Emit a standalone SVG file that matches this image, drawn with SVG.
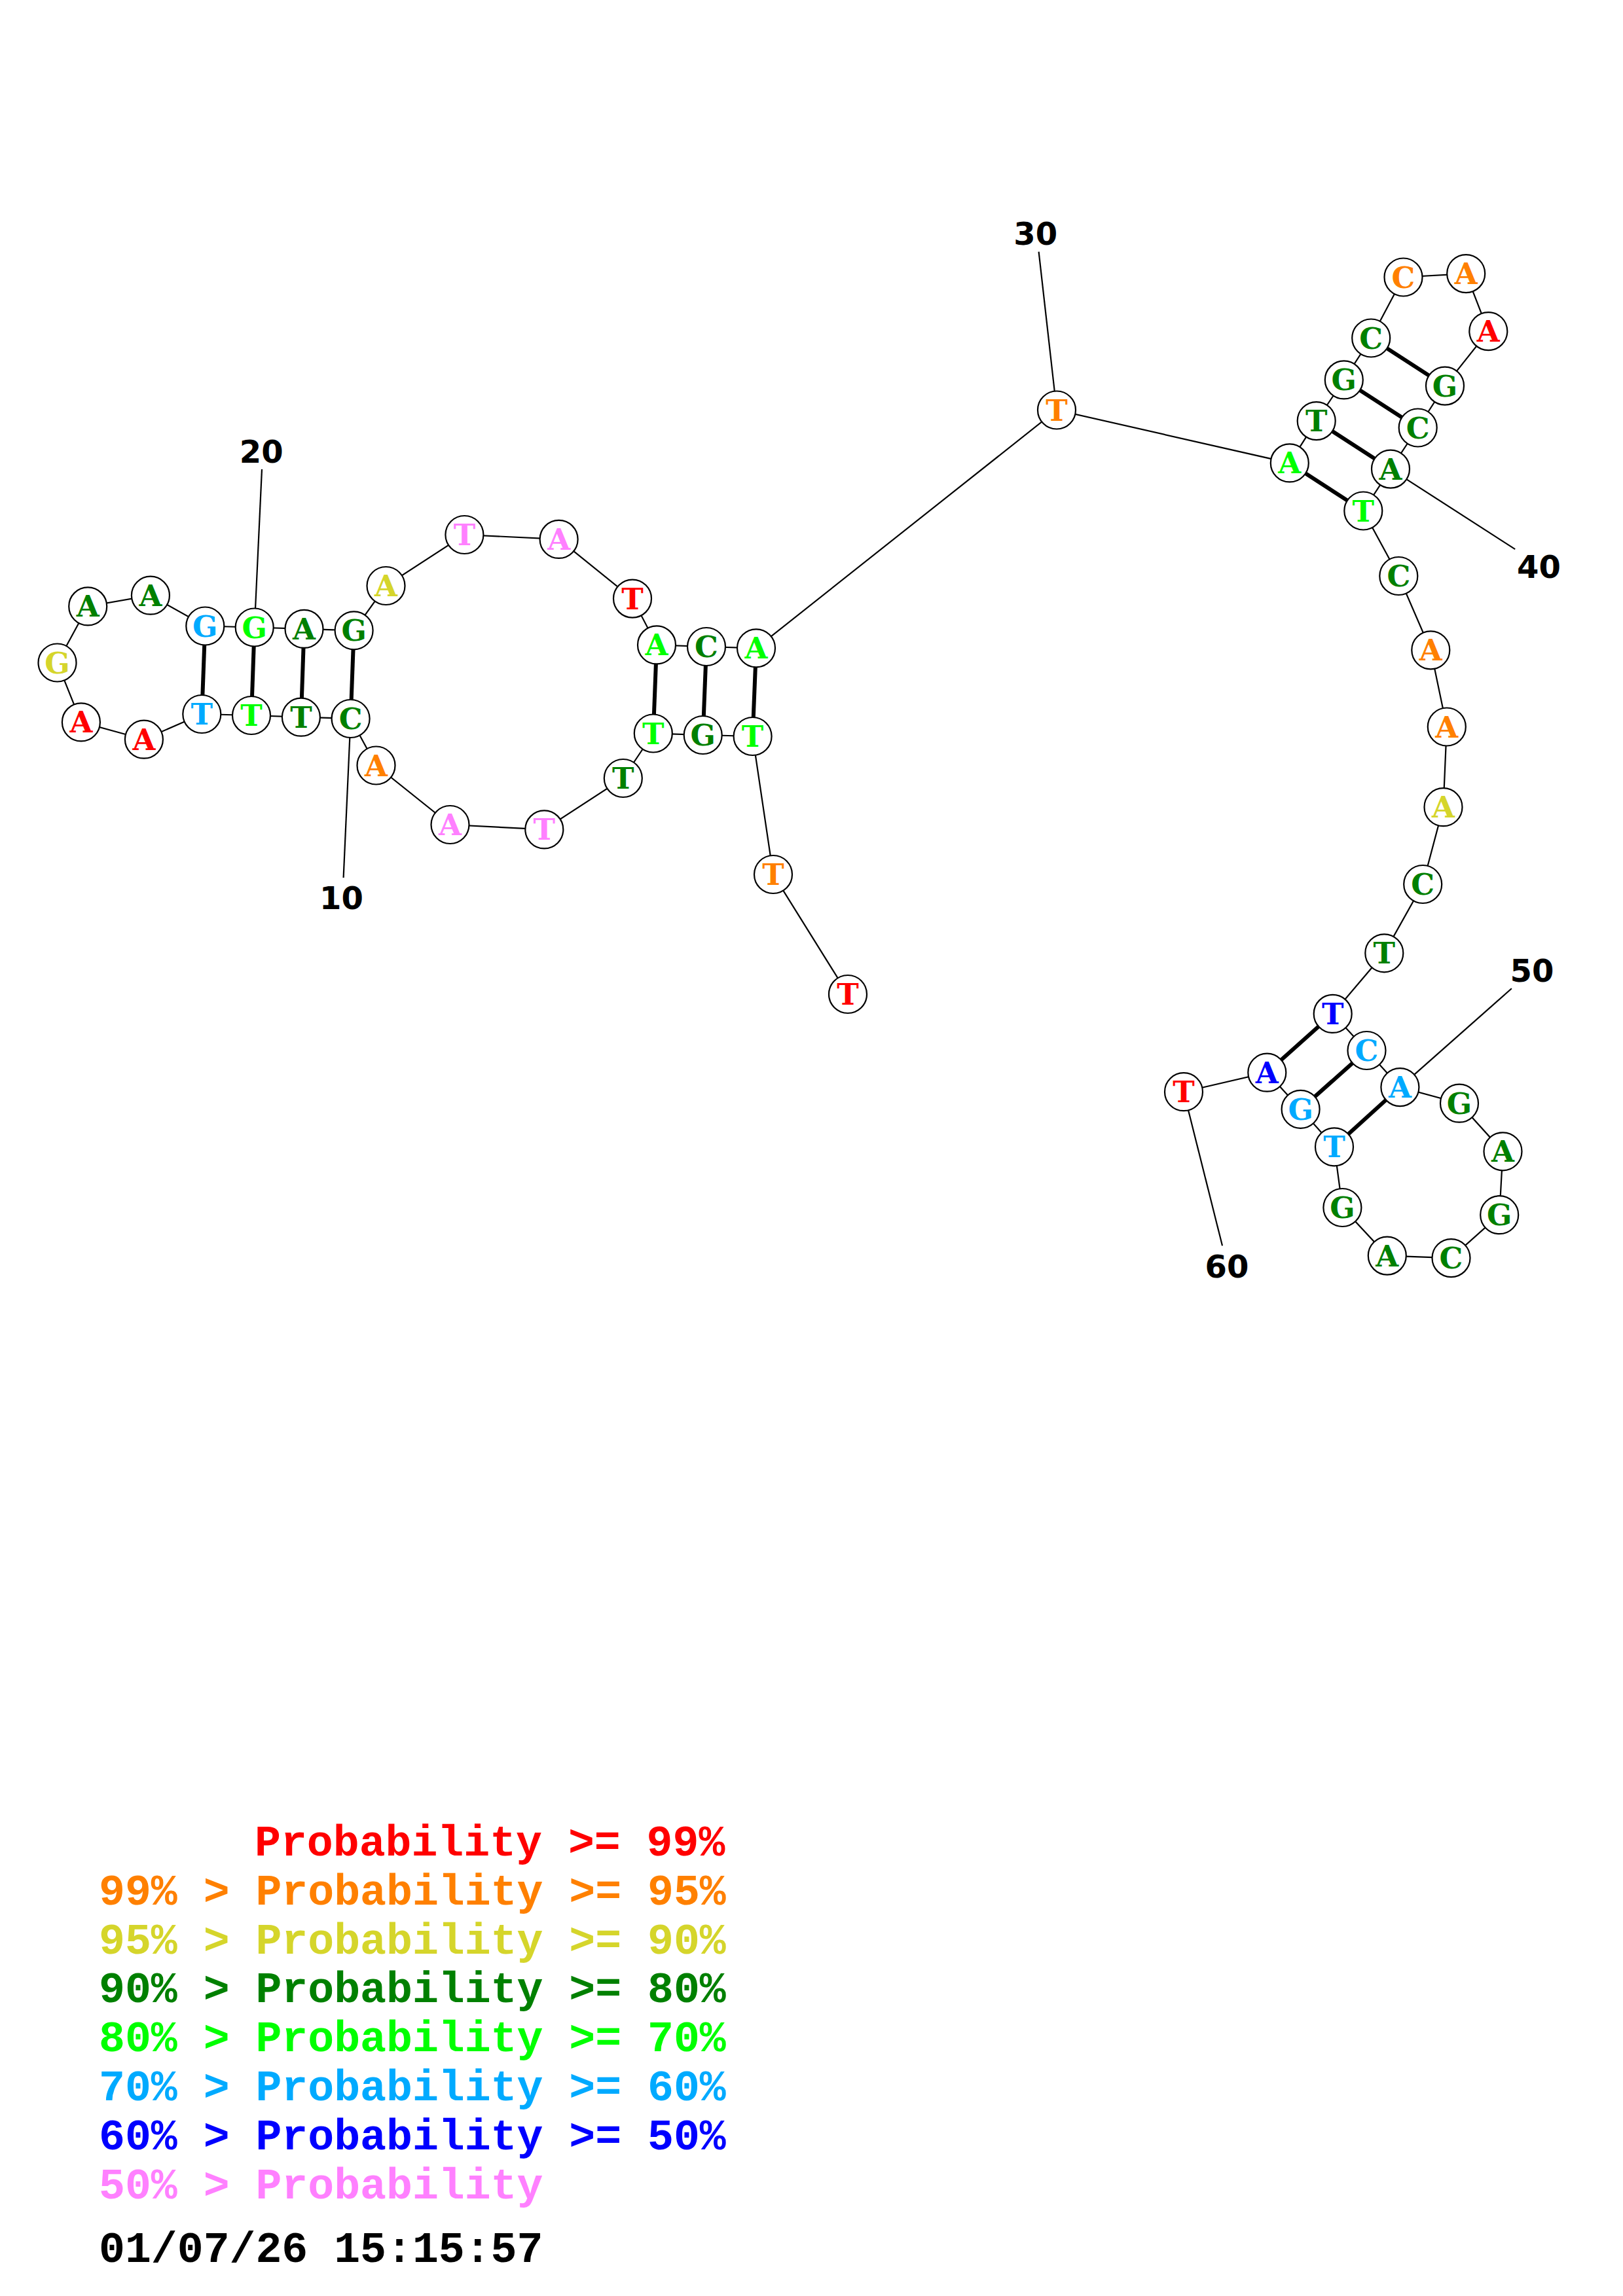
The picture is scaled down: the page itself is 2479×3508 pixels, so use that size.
<svg xmlns="http://www.w3.org/2000/svg" width="2479" height="3508" viewBox="0 0 2479 3508">
<style>
.bb{stroke:#000;stroke-width:2.2;fill:none}
.pr{stroke:#000;stroke-width:6;fill:none}
.nd circle{fill:#fff;stroke:#000;stroke-width:2.2}
.nd text{font-family:"DejaVu Serif",serif;font-weight:bold;font-size:45px;text-anchor:middle}
.lbl{font-family:"DejaVu Sans",sans-serif;font-weight:bold;font-size:48px;text-anchor:middle;fill:#000}
.lg{font-family:"Liberation Mono",monospace;font-weight:bold;font-size:66.5px;white-space:pre}
.r{fill:#FF0000}.o{fill:#FF8000}.y{fill:#D5D52B}.g{fill:#008000}.l{fill:#00FF00}.c{fill:#00AAFF}.u{fill:#0000FF}.k{fill:#FF80FF}
</style>
<rect width="2479" height="3508" fill="#fff"/>
<g id="connectors">
<polyline class="bb" points="1295,1519 1181,1336 1149.6,1125 1073.7,1123 997.8,1120.5 951.8,1189 831.3,1267.4 687.5,1260 574.5,1169.5 535.6,1098 459.9,1095.7 384,1093 308.3,1091 219.9,1129.7 123.9,1103.4 87.5,1012.5 134.2,926.4 229.9,909.7 313.3,956.5 388.7,958.5 464.5,960.9 540.6,963.3 589.5,895 709.4,817 853.6,823.9 966,914.6 1003,985.4 1079,988 1155,990.3 1614,626.5 1969.8,707.4 2010.7,643.1 2052.8,580.4 2094.2,516.5 2143.5,423.5 2239.2,418.1 2273.3,506.1 2207,589.6 2165.7,653.5 2124,716.6 2082.3,780.5 2136.3,880 2185.3,993.3 2209.8,1110.5 2204.5,1233.2 2173.2,1351 2114.3,1456.3 2035.7,1548.9 2087.5,1605 2138.4,1661.1 2229,1685.7 2295.5,1759.3 2290.2,1856.2 2216.5,1922.1 2118.8,1918.6 2050.4,1845 2038,1752.3 1986.6,1694.8 1935.3,1638.7 1808,1668.2"/>
<line class="pr" x1="313.3" y1="956.5" x2="308.3" y2="1091"/>
<line class="pr" x1="388.7" y1="958.5" x2="384" y2="1093"/>
<line class="pr" x1="464.5" y1="960.9" x2="459.9" y2="1095.7"/>
<line class="pr" x1="540.6" y1="963.3" x2="535.6" y2="1098"/>
<line class="pr" x1="1003" y1="985.4" x2="997.8" y2="1120.5"/>
<line class="pr" x1="1079" y1="988" x2="1073.7" y2="1123"/>
<line class="pr" x1="1155" y1="990.3" x2="1149.6" y2="1125"/>
<line class="pr" x1="1969.8" y1="707.4" x2="2082.3" y2="780.5"/>
<line class="pr" x1="2010.7" y1="643.1" x2="2124" y2="716.6"/>
<line class="pr" x1="2052.8" y1="580.4" x2="2165.7" y2="653.5"/>
<line class="pr" x1="2094.2" y1="516.5" x2="2207" y2="589.6"/>
<line class="pr" x1="2035.7" y1="1548.9" x2="1935.3" y2="1638.7"/>
<line class="pr" x1="2087.5" y1="1605" x2="1986.6" y2="1694.8"/>
<line class="pr" x1="2138.4" y1="1661.1" x2="2038" y2="1752.3"/>
<line class="bb" x1="524.6" y1="1341" x2="535.6" y2="1098"/>
<line class="bb" x1="400" y1="717" x2="388.7" y2="958.5"/>
<line class="bb" x1="1586.6" y1="384.6" x2="1614" y2="626.5"/>
<line class="bb" x1="2314.2" y1="839.1" x2="2124" y2="716.6"/>
<line class="bb" x1="2308.9" y1="1510.3" x2="2138.4" y2="1661.1"/>
<line class="bb" x1="1867" y1="1903.2" x2="1808" y2="1668.2"/>
</g>
<g id="labels">
<text class="lbl" x="521.5" y="1389">10</text>
<text class="lbl" x="399.2" y="706.7">20</text>
<text class="lbl" x="1581.7" y="374">30</text>
<text class="lbl" x="2350.5" y="882.7">40</text>
<text class="lbl" x="2340" y="1500">50</text>
<text class="lbl" x="1874" y="1952">60</text>
</g>
<g id="n1" class="nd"><circle cx="1295" cy="1519" r="29"/><text class="r" x="1295" y="1535">T</text></g>
<g id="n2" class="nd"><circle cx="1181" cy="1336" r="29"/><text class="o" x="1181" y="1352">T</text></g>
<g id="n3" class="nd"><circle cx="1149.6" cy="1125" r="29"/><text class="l" x="1149.6" y="1141">T</text></g>
<g id="n4" class="nd"><circle cx="1073.7" cy="1123" r="29"/><text class="g" x="1073.7" y="1139">G</text></g>
<g id="n5" class="nd"><circle cx="997.8" cy="1120.5" r="29"/><text class="l" x="997.8" y="1136.5">T</text></g>
<g id="n6" class="nd"><circle cx="951.8" cy="1189" r="29"/><text class="g" x="951.8" y="1205">T</text></g>
<g id="n7" class="nd"><circle cx="831.3" cy="1267.4" r="29"/><text class="k" x="831.3" y="1283.4">T</text></g>
<g id="n8" class="nd"><circle cx="687.5" cy="1260" r="29"/><text class="k" x="687.5" y="1276">A</text></g>
<g id="n9" class="nd"><circle cx="574.5" cy="1169.5" r="29"/><text class="o" x="574.5" y="1185.5">A</text></g>
<g id="n10" class="nd"><circle cx="535.6" cy="1098" r="29"/><text class="g" x="535.6" y="1114">C</text></g>
<g id="n11" class="nd"><circle cx="459.9" cy="1095.7" r="29"/><text class="g" x="459.9" y="1111.7">T</text></g>
<g id="n12" class="nd"><circle cx="384" cy="1093" r="29"/><text class="l" x="384" y="1109">T</text></g>
<g id="n13" class="nd"><circle cx="308.3" cy="1091" r="29"/><text class="c" x="308.3" y="1107">T</text></g>
<g id="n14" class="nd"><circle cx="219.9" cy="1129.7" r="29"/><text class="r" x="219.9" y="1145.7">A</text></g>
<g id="n15" class="nd"><circle cx="123.9" cy="1103.4" r="29"/><text class="r" x="123.9" y="1119.4">A</text></g>
<g id="n16" class="nd"><circle cx="87.5" cy="1012.5" r="29"/><text class="y" x="87.5" y="1028.5">G</text></g>
<g id="n17" class="nd"><circle cx="134.2" cy="926.4" r="29"/><text class="g" x="134.2" y="942.4">A</text></g>
<g id="n18" class="nd"><circle cx="229.9" cy="909.7" r="29"/><text class="g" x="229.9" y="925.7">A</text></g>
<g id="n19" class="nd"><circle cx="313.3" cy="956.5" r="29"/><text class="c" x="313.3" y="972.5">G</text></g>
<g id="n20" class="nd"><circle cx="388.7" cy="958.5" r="29"/><text class="l" x="388.7" y="974.5">G</text></g>
<g id="n21" class="nd"><circle cx="464.5" cy="960.9" r="29"/><text class="g" x="464.5" y="976.9">A</text></g>
<g id="n22" class="nd"><circle cx="540.6" cy="963.3" r="29"/><text class="g" x="540.6" y="979.3">G</text></g>
<g id="n23" class="nd"><circle cx="589.5" cy="895" r="29"/><text class="y" x="589.5" y="911">A</text></g>
<g id="n24" class="nd"><circle cx="709.4" cy="817" r="29"/><text class="k" x="709.4" y="833">T</text></g>
<g id="n25" class="nd"><circle cx="853.6" cy="823.9" r="29"/><text class="k" x="853.6" y="839.9">A</text></g>
<g id="n26" class="nd"><circle cx="966" cy="914.6" r="29"/><text class="r" x="966" y="930.6">T</text></g>
<g id="n27" class="nd"><circle cx="1003" cy="985.4" r="29"/><text class="l" x="1003" y="1001.4">A</text></g>
<g id="n28" class="nd"><circle cx="1079" cy="988" r="29"/><text class="g" x="1079" y="1004">C</text></g>
<g id="n29" class="nd"><circle cx="1155" cy="990.3" r="29"/><text class="l" x="1155" y="1006.3">A</text></g>
<g id="n30" class="nd"><circle cx="1614" cy="626.5" r="29"/><text class="o" x="1614" y="642.5">T</text></g>
<g id="n31" class="nd"><circle cx="1969.8" cy="707.4" r="29"/><text class="l" x="1969.8" y="723.4">A</text></g>
<g id="n32" class="nd"><circle cx="2010.7" cy="643.1" r="29"/><text class="g" x="2010.7" y="659.1">T</text></g>
<g id="n33" class="nd"><circle cx="2052.8" cy="580.4" r="29"/><text class="g" x="2052.8" y="596.4">G</text></g>
<g id="n34" class="nd"><circle cx="2094.2" cy="516.5" r="29"/><text class="g" x="2094.2" y="532.5">C</text></g>
<g id="n35" class="nd"><circle cx="2143.5" cy="423.5" r="29"/><text class="o" x="2143.5" y="439.5">C</text></g>
<g id="n36" class="nd"><circle cx="2239.2" cy="418.1" r="29"/><text class="o" x="2239.2" y="434.1">A</text></g>
<g id="n37" class="nd"><circle cx="2273.3" cy="506.1" r="29"/><text class="r" x="2273.3" y="522.1">A</text></g>
<g id="n38" class="nd"><circle cx="2207" cy="589.6" r="29"/><text class="g" x="2207" y="605.6">G</text></g>
<g id="n39" class="nd"><circle cx="2165.7" cy="653.5" r="29"/><text class="g" x="2165.7" y="669.5">C</text></g>
<g id="n40" class="nd"><circle cx="2124" cy="716.6" r="29"/><text class="g" x="2124" y="732.6">A</text></g>
<g id="n41" class="nd"><circle cx="2082.3" cy="780.5" r="29"/><text class="l" x="2082.3" y="796.5">T</text></g>
<g id="n42" class="nd"><circle cx="2136.3" cy="880" r="29"/><text class="g" x="2136.3" y="896">C</text></g>
<g id="n43" class="nd"><circle cx="2185.3" cy="993.3" r="29"/><text class="o" x="2185.3" y="1009.3">A</text></g>
<g id="n44" class="nd"><circle cx="2209.8" cy="1110.5" r="29"/><text class="o" x="2209.8" y="1126.5">A</text></g>
<g id="n45" class="nd"><circle cx="2204.5" cy="1233.2" r="29"/><text class="y" x="2204.5" y="1249.2">A</text></g>
<g id="n46" class="nd"><circle cx="2173.2" cy="1351" r="29"/><text class="g" x="2173.2" y="1367">C</text></g>
<g id="n47" class="nd"><circle cx="2114.3" cy="1456.3" r="29"/><text class="g" x="2114.3" y="1472.3">T</text></g>
<g id="n48" class="nd"><circle cx="2035.7" cy="1548.9" r="29"/><text class="u" x="2035.7" y="1564.9">T</text></g>
<g id="n49" class="nd"><circle cx="2087.5" cy="1605" r="29"/><text class="c" x="2087.5" y="1621">C</text></g>
<g id="n50" class="nd"><circle cx="2138.4" cy="1661.1" r="29"/><text class="c" x="2138.4" y="1677.1">A</text></g>
<g id="n51" class="nd"><circle cx="2229" cy="1685.7" r="29"/><text class="g" x="2229" y="1701.7">G</text></g>
<g id="n52" class="nd"><circle cx="2295.5" cy="1759.3" r="29"/><text class="g" x="2295.5" y="1775.3">A</text></g>
<g id="n53" class="nd"><circle cx="2290.2" cy="1856.2" r="29"/><text class="g" x="2290.2" y="1872.2">G</text></g>
<g id="n54" class="nd"><circle cx="2216.5" cy="1922.1" r="29"/><text class="g" x="2216.5" y="1938.1">C</text></g>
<g id="n55" class="nd"><circle cx="2118.8" cy="1918.6" r="29"/><text class="g" x="2118.8" y="1934.6">A</text></g>
<g id="n56" class="nd"><circle cx="2050.4" cy="1845" r="29"/><text class="g" x="2050.4" y="1861">G</text></g>
<g id="n57" class="nd"><circle cx="2038" cy="1752.3" r="29"/><text class="c" x="2038" y="1768.3">T</text></g>
<g id="n58" class="nd"><circle cx="1986.6" cy="1694.8" r="29"/><text class="c" x="1986.6" y="1710.8">G</text></g>
<g id="n59" class="nd"><circle cx="1935.3" cy="1638.7" r="29"/><text class="u" x="1935.3" y="1654.7">A</text></g>
<g id="n60" class="nd"><circle cx="1808" cy="1668.2" r="29"/><text class="r" x="1808" y="1684.2">T</text></g>
<g id="legend">
<text class="lg r" x="389" y="2835">Probability &gt;= 99%</text>
<text class="lg o" x="151" y="2910">99% &gt; Probability &gt;= 95%</text>
<text class="lg y" x="151" y="2985">95% &gt; Probability &gt;= 90%</text>
<text class="lg g" x="151" y="3059">90% &gt; Probability &gt;= 80%</text>
<text class="lg l" x="151" y="3134">80% &gt; Probability &gt;= 70%</text>
<text class="lg c" x="151" y="3209">70% &gt; Probability &gt;= 60%</text>
<text class="lg u" x="151" y="3284">60% &gt; Probability &gt;= 50%</text>
<text class="lg k" x="151" y="3359">50% &gt; Probability</text>
<text class="lg" x="151" y="3456" fill="#000">01/07/26 15:15:57</text>
</g>
</svg>
